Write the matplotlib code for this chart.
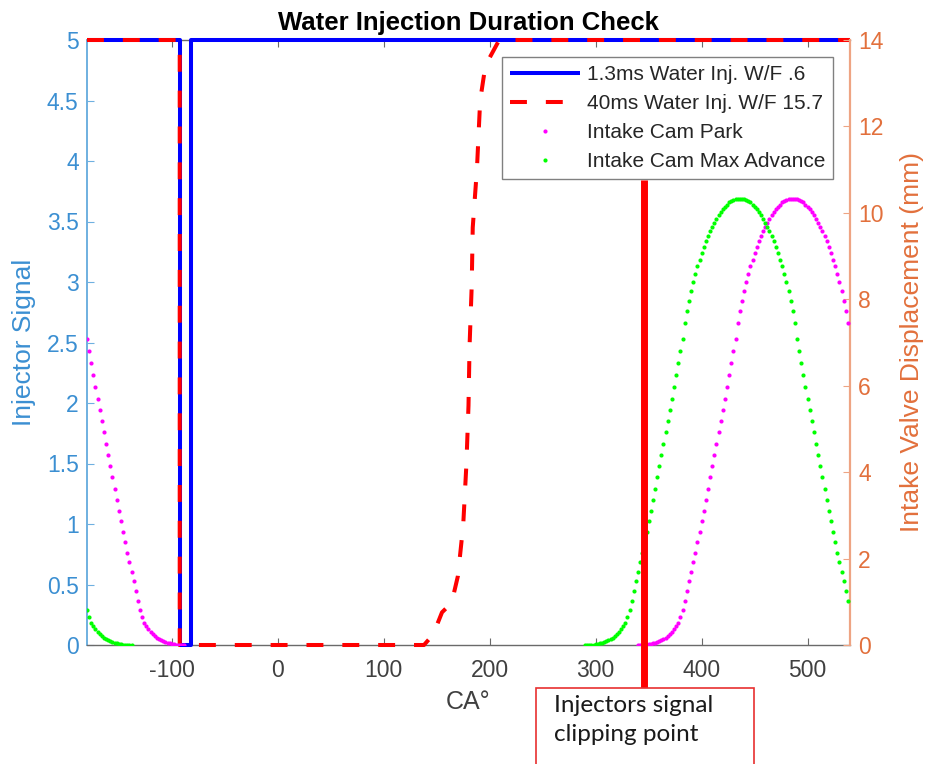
import numpy as np
import matplotlib
matplotlib.use('Agg')
import matplotlib.pyplot as plt
from matplotlib.patches import Rectangle
import matplotlib.transforms as mtransforms

plt.rcParams['font.family'] = ['Liberation Sans', 'DejaVu Sans']
plt.rcParams['axes.unicode_minus'] = False

# ---------------- data ----------------
x_limits = (-180, 540)
x_ticks = [-100, 0, 100, 200, 300, 400, 500]
left_limits = (0, 5)
left_ticks = [0, 0.5, 1, 1.5, 2, 2.5, 3, 3.5, 4, 4.5, 5]
right_limits = (0, 14)
right_ticks = [0, 2, 4, 6, 8, 10, 12, 14]

# 1.3 ms injection (injector signal vs crank angle)
inj_short_ca = [-180, -92.5, -92.5, -81.4, -81.4, 540]
inj_short_sig = [5, 5, 0, 0, 5, 5]

# 40 ms injection (injector signal vs crank angle)
inj_long_ca = [-180, -92.5, -92.5, 138, 145, 150, 155, 162, 166, 170, 175,
               178, 180, 181, 183, 184, 188, 191, 196, 209, 540]
inj_long_sig = [5, 5, 0, 0, 0.07, 0.16, 0.27, 0.33, 0.42, 0.57, 0.99,
                1.49, 1.98, 2.47, 2.96, 3.45, 3.94, 4.5, 4.79, 5, 5]

# intake valve lift (mm), every 2 CA deg away from max lift (symmetric profile)
cam_step = 2
cam_half_lift = [10.33, 10.33, 10.32, 10.30, 10.27, 10.24, 10.19, 10.14, 10.08, 10.01,
                 9.94, 9.86, 9.77, 9.67, 9.57, 9.46, 9.34, 9.21, 9.07, 8.92,
                 8.76, 8.59, 8.41, 8.20, 7.97, 7.72, 7.45, 7.08, 6.80, 6.52,
                 6.24, 5.97, 5.70, 5.44, 5.18, 4.92, 4.66, 4.40, 4.14, 3.88,
                 3.62, 3.36, 3.11, 2.86, 2.62, 2.38, 2.14, 1.91, 1.69, 1.47,
                 1.25, 1.01, 0.80, 0.64, 0.52, 0.43, 0.36, 0.30, 0.25, 0.21,
                 0.17, 0.14, 0.11, 0.09, 0.07, 0.05, 0.04, 0.03, 0.02, 0.01,
                 0.01, 0.00, 0.00, 0.00]
park_peak_ca = 486
adv_peak_ca = 436
clip_ca = 346

labels = ['1.3ms Water Inj. W/F .6', '40ms Water Inj. W/F 15.7',
          'Intake Cam Park', 'Intake Cam Max Advance']

# --------------- build cam curves ---------------
half = np.array(cam_half_lift)
lift_full = np.concatenate([half[::-1], half[1:]])
offs = cam_step * (np.arange(len(lift_full)) - (len(half) - 1))


def wrap(ca):
    return ((ca + 180) % 720) - 180


park_ca = wrap(park_peak_ca + offs)
adv_ca = wrap(adv_peak_ca + offs)

# --------------- figure ---------------
W, H = 929, 764
fig = plt.figure(figsize=(W / 100, H / 100), dpi=100)
ax = fig.add_axes([87 / W, 119 / H, 763 / W, 605 / H])
ax2 = ax.twinx()

blue_lbl = '#3b8fd2'
blue_sp = '#6fb0e0'
org_lbl = '#e2703c'
org_sp = '#eea483'
gray_sp = '#6a6a6a'
gray_lbl = '#404040'

l1, = ax.plot(inj_short_ca, inj_short_sig, color='#0000ff', lw=2.9,
              solid_capstyle='butt', clip_on=False, zorder=4)
l2, = ax.plot(inj_long_ca, inj_long_sig, color='#ff0000', lw=2.9,
              dashes=(4.2, 4.7), clip_on=False, zorder=5)

p1, = ax2.plot(park_ca, lift_full, linestyle='none', marker='o', ms=3.0,
               mew=0, color='#ff00ff', zorder=3)
p2, = ax2.plot(adv_ca, lift_full, linestyle='none', marker='o', ms=3.0,
               mew=0, color='#00ff00', zorder=3)

ax.set_xlim(*x_limits)
ax.set_ylim(*left_limits)
ax2.set_ylim(*right_limits)
ax.set_xticks(x_ticks)
ax.set_yticks(left_ticks)
ax2.set_yticks(right_ticks)
ax.set_yticklabels([('%g' % v) for v in left_ticks])

# spines
for s in ['left', 'right', 'top', 'bottom']:
    ax2.spines[s].set_visible(s == 'right')
ax.spines['right'].set_visible(False)
ax.spines['left'].set_color(blue_sp)
ax.spines['bottom'].set_color(gray_sp)
ax.spines['top'].set_color(gray_sp)
ax2.spines['right'].set_color(org_sp)
for s in ax.spines.values():
    s.set_linewidth(1.0)
ax2.spines['right'].set_linewidth(1.6)
ax.spines['left'].set_linewidth(1.4)

ax.tick_params(axis='x', direction='in', top=True, length=5, width=0.8,
               color=gray_sp, labelcolor=gray_lbl, labelsize=16.5, pad=10)
ax.tick_params(axis='y', direction='in', length=5, width=0.8, color=blue_sp,
               labelcolor=blue_lbl, labelsize=16.5, pad=6)
ax2.tick_params(axis='y', direction='in', length=5, width=0.8, color=org_sp,
                labelcolor=org_lbl, labelsize=16.5, pad=6)

ax.set_xlabel('CA°', fontsize=18, color=gray_lbl, labelpad=6)
ax.set_ylabel('Injector Signal', fontsize=19, color=blue_lbl, labelpad=8)
ax2.set_ylabel('Intake Valve Displacement (mm)', fontsize=19, color=org_lbl,
               labelpad=12)
ax.set_title('Water Injection Duration Check', fontsize=18.5, fontweight='bold',
             pad=7)

leg = ax2.legend([l1, l2, p1, p2], labels, loc='upper right',
                 bbox_to_anchor=(0.9777, 0.9719), borderaxespad=0,
                 fontsize=15, handlelength=3.4, handletextpad=0.3,
                 labelspacing=0.48, borderpad=0.38, numpoints=1,
                 fancybox=False, framealpha=1, edgecolor='#808080')
leg.get_frame().set_linewidth(1.0)
leg.set_zorder(10)
for t in leg.get_texts():
    t.set_color('#262626')

# annotation: clipping point line and text box
trans = mtransforms.blended_transform_factory(ax.transData, ax.transAxes)
ax2.plot([clip_ca, clip_ca], [0.769, -0.071], transform=trans, color='#ff0000',
         lw=5.0, solid_capstyle='butt', clip_on=False, zorder=20)
ax2.add_patch(Rectangle((244, -0.30), 205, 0.229, transform=trans,
                        facecolor='white', edgecolor='#e83030', lw=1.2,
                        clip_on=False, zorder=21))
ax2.text(261, -0.083, 'Injectors signal\nclipping point', transform=trans,
         ha='left', va='top', fontsize=17.5, family=['Lato', 'DejaVu Sans'],
         color='#1a1a1a', linespacing=1.45, zorder=22, clip_on=False)

fig.savefig('out.png', dpi=100)
